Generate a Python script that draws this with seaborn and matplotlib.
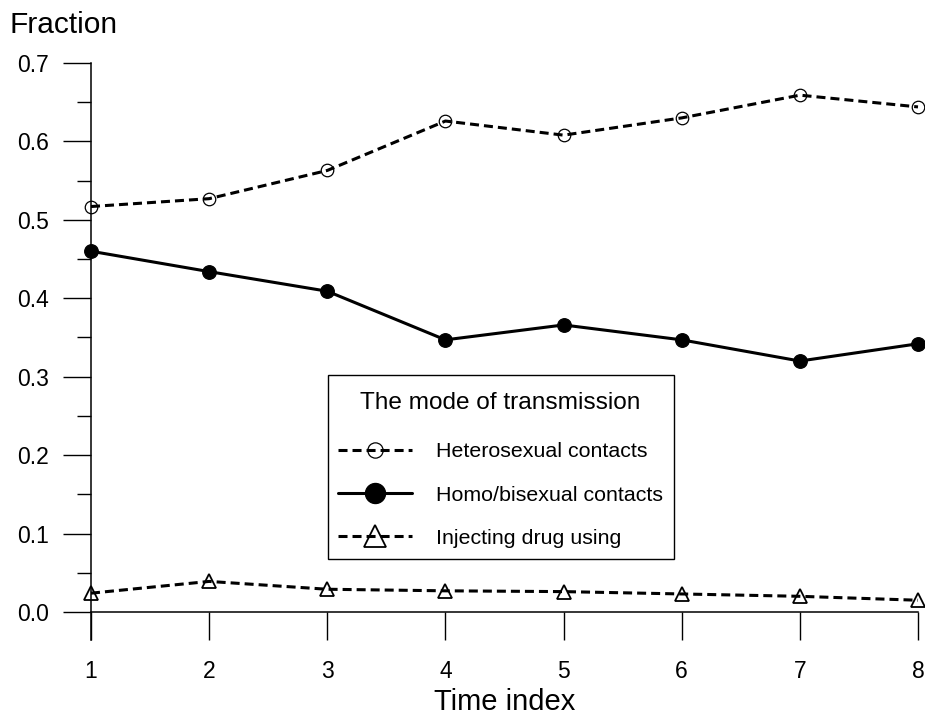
import numpy as np
import pandas as pd
import matplotlib
matplotlib.use("Agg")
import matplotlib.pyplot as plt
import seaborn as sns
from matplotlib.ticker import MultipleLocator
from matplotlib.offsetbox import VPacker, DrawingArea

# ---- data ----
time_index = [1, 2, 3, 4, 5, 6, 7, 8]
hetero = [0.517, 0.527, 0.563, 0.626, 0.608, 0.630, 0.659, 0.644]
homo = [0.460, 0.434, 0.409, 0.347, 0.366, 0.347, 0.320, 0.342]
idu = [0.024, 0.039, 0.029, 0.027, 0.026, 0.023, 0.020, 0.015]
series_labels = ["Heterosexual contacts", "Homo/bisexual contacts", "Injecting drug using"]
y_ticks = [0.0, 0.1, 0.2, 0.3, 0.4, 0.5, 0.6, 0.7]
legend_title = "The mode of transmission"
x_label = "Time index"
y_label = "Fraction"

sns.set_style("white")
plt.rcParams["font.family"] = ["Liberation Sans", "DejaVu Sans"]
plt.rcParams["text.color"] = "black"
plt.rcParams["axes.labelcolor"] = "black"

W, H = 925, 716
fig = plt.figure(figsize=(W / 100, H / 100), dpi=100)
ax_left, ax_right = 91, 918
y0_px, y07_px, ybot_px = 612, 63, 640
ppu = (y0_px - y07_px) / 0.7
ymin = -(ybot_px - y0_px) / ppu
ax = fig.add_axes([ax_left / W, 1 - ybot_px / H, (ax_right - ax_left) / W, (ybot_px - y07_px) / H])

lw = 2.2
dash = (0, (2.95, 1.64))
sns.lineplot(x=time_index, y=hetero, ax=ax, color="black", linewidth=lw, linestyle=dash,
             marker="o", markersize=9, markerfacecolor="none", markeredgecolor="black",
             markeredgewidth=0.9, clip_on=False, label=series_labels[0], legend=False)
sns.lineplot(x=time_index, y=homo, ax=ax, color="black", linewidth=lw, linestyle="-",
             marker="o", markersize=9.8, markerfacecolor="black", markeredgecolor="black",
             markeredgewidth=0.9, clip_on=False, label=series_labels[1], legend=False)
sns.lineplot(x=time_index, y=idu, ax=ax, color="black", linewidth=lw, linestyle=dash,
             marker="^", markersize=9.5, markerfacecolor="none", markeredgecolor="black",
             markeredgewidth=1.3, clip_on=False, label=series_labels[2], legend=False)

ax.set_xlim(1, 8)
ax.set_ylim(ymin, 0.7)
ax.set_xticks(time_index)
ax.set_xticklabels([str(t) for t in time_index])
ax.set_yticks(y_ticks)
ax.set_yticklabels([f"{v:.1f}" for v in y_ticks])
ax.yaxis.set_minor_locator(MultipleLocator(0.05))
ax.set_xlabel("")
ax.set_ylabel("")

for s in ["top", "right"]:
    ax.spines[s].set_visible(False)
ax.spines["bottom"].set_position(("data", 0))
for s in ["left", "bottom"]:
    ax.spines[s].set_linewidth(1.1)
    ax.spines[s].set_color("black")
ax.set_facecolor("none")

ax.tick_params(axis="both", which="major", direction="out", length=20, width=1.0,
               color="black", labelsize=16.5, labelcolor="black")
ax.tick_params(axis="y", which="minor", direction="out", length=10, width=1.0, color="black", left=True)
ax.tick_params(axis="y", which="major", pad=10.5, left=True)
ax.tick_params(axis="x", which="major", pad=14.5, bottom=True)
ax.tick_params(axis="x", which="minor", bottom=False)

fig.text(10 / W, 1 - 33 / H, y_label, fontsize=21.5, ha="left", va="baseline", color="black")
fig.text((ax_left + ax_right) / 2 / W, 1 - 710 / H, x_label, fontsize=21, ha="center",
         va="baseline", color="black")

leg_fs = 15.4
leg = ax.legend(loc="upper left", bbox_to_anchor=(327.5 / W, 1 - 375 / H),
                bbox_transform=fig.transFigure, borderaxespad=0,
                title=legend_title, title_fontsize=17.6, fontsize=leg_fs,
                frameon=True, fancybox=False, framealpha=1, edgecolor="black",
                borderpad=0.5, labelspacing=1.134, handlelength=3.44, handletextpad=1.14,
                labelcolor="black")
leg.get_frame().set_linewidth(1.0)
leg.get_title().set_color("black")
for h, ms in zip(leg.legend_handles, [11, 14.5, 16]):
    h.set_markersize(ms)

# extra spacing around the legend title (px -> pt)
px2pt = 72 / 100
title_group = VPacker(children=[DrawingArea(1, 6.0 * px2pt), leg._legend_title_box],
                      pad=0, sep=0, align="center")
title_group.set_figure(fig)
leg._legend_box._children = [title_group, leg._legend_handle_box]
leg._legend_box.sep = 1.134 * leg_fs + 4.5 * px2pt

fig.savefig("out.png", dpi=100)
